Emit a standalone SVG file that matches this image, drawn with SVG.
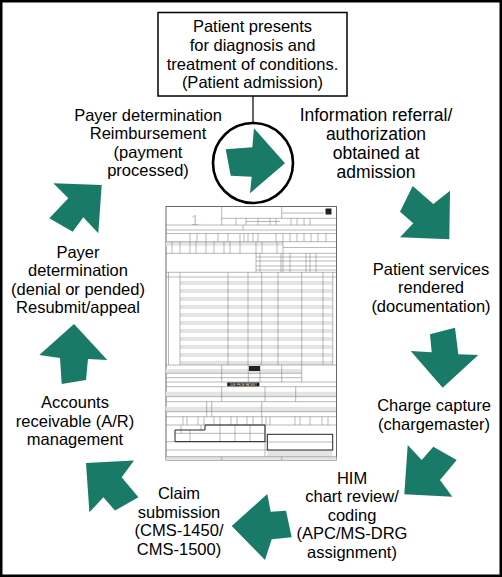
<svg xmlns="http://www.w3.org/2000/svg" width="502" height="577" viewBox="0 0 502 577">
<style>
.lbl{font-family:"Liberation Sans",Arial,Helvetica,sans-serif;font-size:16.5px;fill:#000;text-anchor:middle}
.big{font-size:17.5px}
.arr{fill:#1a7a68}
.f{stroke:#707070;stroke-width:0.5;fill:none}
.fb{stroke:#222;stroke-width:1;fill:none}
.fs{fill:#e4e4e4}
</style>
<rect x="0" y="0" width="502" height="577" fill="#fff"/>
<rect x="1.25" y="1.25" width="499.5" height="574.5" fill="none" stroke="#000" stroke-width="2.5"/>

<g id="claim-form">
<rect x="166" y="206.5" width="170.5" height="253.5" fill="#fff" stroke="#444" stroke-width="0.8"/>
<g class="fs">
<rect x="166" y="241.7" width="117" height="4"/>
<rect x="180" y="281" width="152.7" height="4"/><rect x="180" y="289" width="152.7" height="4"/>
<rect x="180" y="297" width="152.7" height="4"/><rect x="180" y="305" width="152.7" height="4"/>
<rect x="180" y="313" width="152.7" height="4"/><rect x="180" y="321" width="152.7" height="4"/>
<rect x="180" y="329" width="152.7" height="4"/><rect x="180" y="337" width="152.7" height="4"/>
<rect x="180" y="345" width="152.7" height="4"/><rect x="180" y="353" width="152.7" height="4"/>
<rect x="180" y="361" width="152.7" height="4"/>
<rect x="166" y="369" width="135" height="4"/><rect x="166" y="391.7" width="170" height="5"/>
<rect x="166" y="406.7" width="170" height="5"/><rect x="166" y="456.7" width="170.5" height="3.3"/>
<rect x="267.3" y="450" width="65" height="6.7"/>
</g>
<text x="195" y="225" font-family="Liberation Sans,Arial,sans-serif" font-size="14" fill="#c4c4c4" text-anchor="middle">1</text>
<rect x="325.5" y="208.5" width="6" height="6" fill="#222"/>
<path class="f" d="M221.7 206.5V225M281.7 206.5V218.3M221.7 218.3H336M281.7 213H324
M236 218.3V225M246 218.3V225M258 218.3V225M270 218.3V225M276 218.3V225M291 218.3V225M297 218.3V225M304 218.3V225M310 218.3V225M246 221.5H280
M166 225H336.5M243 225V230M166 230H336.5M166 233.5H336.5
M190 233.5V241.7M197 233.5V241.7M206 233.5V241.7M218 233.5V241.7M228 233.5V241.7M240 233.5V241.7M244 233.5V241.7M248 233.5V241.7M253 233.5V241.7M258 233.5V241.7M276 233.5V241.7M283 233.5V241.7M290 233.5V241.7M297 233.5V241.7M304 233.5V241.7M311 233.5V241.7M318 233.5V241.7M326 233.5V241.7
M166 241.7H336.5M172 241.7V253.3M180 241.7V253.3M190 241.7V253.3M196 241.7V253.3M206 241.7V253.3M214 241.7V253.3M224 241.7V253.3M230 241.7V253.3M240 241.7V253.3M256 241.7V253.3M262 241.7V253.3M277 241.7V253.3M283 241.7V253.3M283 247.5H336.5
M166 253.3H336.5M256 253.3V272.3M260 253.3V272.3M281 253.3V272.3M283 253.3V272.3M290 253.3V272.3M306 253.3V272.3M310 253.3V272.3M316 253.3V272.3
M256 257H336.5M256 261H336.5M256 266H336.5M256 270H336.5
M166 272.3H336.5M166 277H336.5
M168.5 272.3V365M180 272.3V365M228 272.3V365M248 272.3V365M261.7 272.3V365M278 272.3V365M301.7 272.3V365M323 272.3V365M332.7 272.3V365
M166 365H336.5M221.7 365V382M248.3 365V382M260 365V382M281.7 365V382M301.7 365V382M166 373.3H301.7M166 377.7H301.7M166 382H336.5
M166 386.7H336.5M221.7 386.7V401.7M265 386.7V401.7M295.7 386.7V401.7M166 396.7H336.5
M166 401.7H336.5M206.7 401.7V416.7M211.7 401.7V416.7M261.7 401.7V416.7M166 411.7H336.5
M166 416.7H336.5M183 416.7V425M187 416.7V425M198 416.7V425M204 416.7V425M214 416.7V425M220 416.7V425M231 416.7V425M237 416.7V425M247 416.7V425M253 416.7V425M262 416.7V425M266 416.7V425M270 416.7V425M295 416.7V425M300 416.7V425M310 416.7V425M322 416.7V425M328 416.7V425
M166 425H336.5M175 433.3H265M190 430V441.7M220 425V441.7M235 425V441.7M250 425V441.7M181 425V433.3M201 425V430
M166 441.7H267M166 450H267M265 425V456.7M267.3 442H332.7M166 456.7H336.5M221.7 456.7V460M281.7 456.7V460"/>
<rect x="249" y="366" width="11" height="5" fill="#222"/>
<rect x="227.3" y="382.5" width="32" height="3.8" fill="#111"/>
<text x="243.3" y="385.6" font-family="Liberation Sans,Arial,sans-serif" font-size="2.8" fill="#fff" text-anchor="middle">DUE FROM PATIENT</text>
<path class="fb" d="M175 430H205V425H265V441.7H175Z"/>
<rect class="fb" x="267.3" y="434.3" width="65.4" height="15.7"/>
</g>

<g id="connectors">
<line x1="253" y1="96" x2="253" y2="123" stroke="#000" stroke-width="1.2"/>
<circle cx="253" cy="163" r="40" fill="none" stroke="#000" stroke-width="2.6"/>
<polygon class="arr" points="225.7,149.3 252.3,147.3 254,128.3 285,163.3 250,193.3 251.7,176.7 230.7,175.7"/>
<polygon class="arr" points="412.7,186 433.3,204 450,190.7 449.3,239.3 400,237.3 413.3,223.3 400,211.7"/>
<polygon class="arr" points="430,334.3 455,327.7 458.3,354.3 478.3,355 442.7,387.7 410.7,351 431.7,352.3"/>
<polygon class="arr" points="407.7,445 421.7,460 433.3,446.7 456.7,460 440,480 452.3,496.7 404.3,494.3"/>
<polygon class="arr" points="231.7,526 267.3,494 270.7,511.7 286,510.7 291.7,537.3 271.7,539.3 265,560"/>
<polygon class="arr" points="86,463 134,460.6 121.7,477.3 138.4,497.3 115,510.6 103.4,497.3 89.4,512.3"/>
<polygon class="arr" points="74,324 107.3,360 88,359 86,380 61.7,384 60,358 39.3,355"/>
<polygon class="arr" points="101.7,185 98.3,233.3 83.3,217.3 72.7,231.7 49.3,218.3 68.3,198.3 53.3,183.3"/>
</g>

<g id="node-admission">
<rect x="158" y="12.5" width="189" height="83.5" fill="#fff" stroke="#000" stroke-width="1.5"/>
<text class="lbl"><tspan x="252.5" y="32.3">Patient presents</tspan><tspan x="252.5" y="51">for diagnosis and</tspan><tspan x="252.5" y="69.7">treatment of conditions.</tspan><tspan x="252.5" y="88.4">(Patient admission)</tspan></text>
</g>
<g id="node-referral">
<text class="lbl big"><tspan x="376" y="120.5">Information referral/</tspan><tspan x="376" y="139.5">authorization</tspan><tspan x="376" y="158.5">obtained at</tspan><tspan x="376" y="177.5">admission</tspan></text>
</g>
<g id="node-services">
<text class="lbl"><tspan x="431" y="274.5">Patient services</tspan><tspan x="431" y="293">rendered</tspan><tspan x="431" y="311.5">(documentation)</tspan></text>
</g>
<g id="node-charge">
<text class="lbl"><tspan x="434" y="411">Charge capture</tspan><tspan x="434" y="429.5">(chargemaster)</tspan></text>
</g>
<g id="node-him">
<text class="lbl"><tspan x="352" y="483.5">HIM</tspan><tspan x="352" y="502">chart review/</tspan><tspan x="352" y="520.5">coding</tspan><tspan x="352" y="539">(APC/MS-DRG</tspan><tspan x="352" y="557.5">assignment)</tspan></text>
</g>
<g id="node-claim">
<text class="lbl"><tspan x="179" y="499">Claim</tspan><tspan x="179" y="517.5">submission</tspan><tspan x="179" y="536">(CMS-1450/</tspan><tspan x="179" y="554.5">CMS-1500)</tspan></text>
</g>
<g id="node-ar">
<text class="lbl"><tspan x="75" y="408">Accounts</tspan><tspan x="75" y="426.5">receivable (A/R)</tspan><tspan x="75" y="445">management</tspan></text>
</g>
<g id="node-denial">
<text class="lbl"><tspan x="78" y="257.5">Payer</tspan><tspan x="78" y="276">determination</tspan><tspan x="78" y="294.5">(denial or pended)</tspan><tspan x="78" y="313">Resubmit/appeal</tspan></text>
</g>
<g id="node-reimbursement">
<text class="lbl"><tspan x="148" y="120.5">Payer determination</tspan><tspan x="148" y="139">Reimbursement</tspan><tspan x="148" y="157.5">(payment</tspan><tspan x="148" y="176">processed)</tspan></text>
</g>
</svg>
